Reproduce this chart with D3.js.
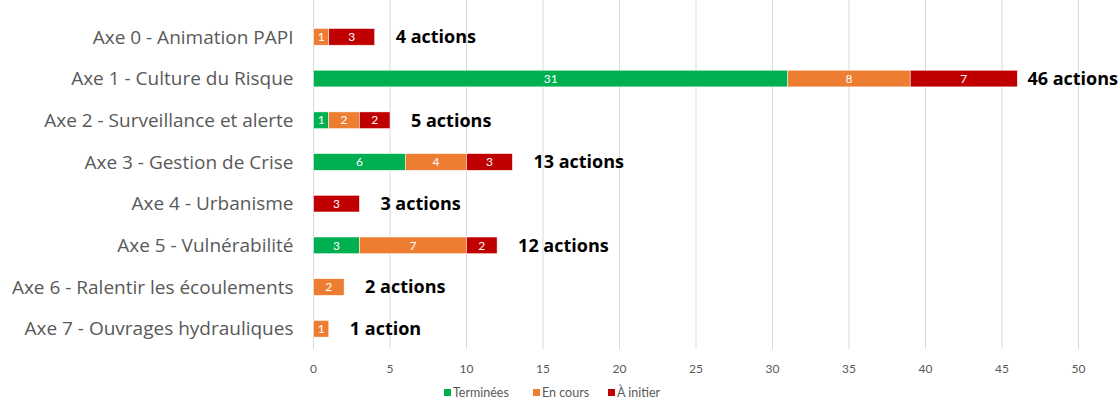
<!DOCTYPE html>
<html>
<head>
<meta charset="utf-8">
<script src="https://cdn.jsdelivr.net/npm/d3@7"></script>
<style>
  body { margin: 0; background: #fff; }
  text { font-family: Lato, "Open Sans", sans-serif; }
</style>
</head>
<body>
<div id="chart"></div>
<script>
var categories = ["Axe 0 - Animation PAPI", "Axe 1 - Culture du Risque", "Axe 2 - Surveillance et alerte",
  "Axe 3 - Gestion de Crise", "Axe 4 - Urbanisme", "Axe 5 - Vulnérabilité",
  "Axe 6 - Ralentir les écoulements", "Axe 7 - Ouvrages hydrauliques"];
var terminees = [0, 31, 1, 6, 0, 3, 0, 0];
var enCours   = [1, 8, 2, 4, 0, 7, 2, 1];
var aInitier  = [3, 7, 2, 3, 3, 2, 0, 0];
var seriesNames = ["Terminées", "En cours", "À initier"];
var colors = ["#00B050", "#ED7D31", "#C00000"];
var xTicks = [0, 5, 10, 15, 20, 25, 30, 35, 40, 45, 50];

var W = 1120, H = 401;
var margin = {top: 16, right: 42, bottom: 52, left: 313.5};

var svg = d3.select("#chart").append("svg")
    .attr("width", W)
    .attr("height", H);
var g = svg.append("g")
    .attr("transform", "translate(" + margin.left + "," + margin.top + ")");

var x = d3.scaleLinear().domain([0, 50]).range([0, 765]);
var y = d3.scaleBand().domain(categories).range([0, 333.6]).paddingInner(0.6).paddingOuter(0.3);

// gridlines
g.selectAll(".grid").data(xTicks).enter().append("line")
  .attr("x1", function(d) { return x(d); })
  .attr("x2", function(d) { return x(d); })
  .attr("y1", -16).attr("y2", 333)
  .attr("stroke", "#d9d9d9").attr("stroke-width", 1);

// tick labels
g.selectAll(".tick").data(xTicks).enter().append("text")
  .attr("x", function(d) { return x(d); })
  .attr("y", 357)
  .attr("text-anchor", "middle")
  .attr("font-size", 12)
  .attr("fill", "#595959")
  .text(function(d) { return d; });

// category labels
g.selectAll(".cat").data(categories).enter().append("text")
  .attr("x", -20)
  .attr("y", function(d) { return y(d) + y.bandwidth() / 2; })
  .attr("dy", "0.35em")
  .attr("text-anchor", "end")
  .style("font-family", "'Open Sans', sans-serif")
  .attr("font-size", 19)
  .attr("fill", "#595959")
  .text(function(d) { return d; });

// stacked data
var rows = categories.map(function(c, i) {
  return {cat: c, "Terminées": terminees[i], "En cours": enCours[i], "À initier": aInitier[i]};
});
var stack = d3.stack().keys(seriesNames)(rows);

var layers = g.selectAll(".layer").data(stack).enter().append("g")
  .attr("fill", function(d, i) { return colors[i]; });

layers.selectAll("rect").data(function(d) { return d; }).enter().append("rect")
  .filter(function(d) { return d[1] > d[0]; })
  .attr("x", function(d) { return x(d[0]); })
  .attr("y", function(d) { return y(d.data.cat); })
  .attr("width", function(d) { return x(d[1]) - x(d[0]); })
  .attr("height", y.bandwidth())
  .attr("stroke", "#fff").attr("stroke-width", 0.5);

layers.selectAll("text").data(function(d) { return d; }).enter().append("text")
  .filter(function(d) { return d[1] > d[0]; })
  .attr("x", function(d) { return (x(d[0]) + x(d[1])) / 2; })
  .attr("y", function(d) { return y(d.data.cat) + y.bandwidth() / 2; })
  .attr("dy", "0.35em")
  .attr("text-anchor", "middle")
  .attr("font-size", 12)
  .attr("fill", "#fff")
  .text(function(d) { return d[1] - d[0]; });

// totals
g.selectAll(".total").data(rows).enter().append("text")
  .attr("y", function(d) { return y(d.cat) + y.bandwidth() / 2; })
  .attr("dy", "0.35em")
  .style("font-family", "'Open Sans', sans-serif")
  .attr("font-size", 18)
  .attr("font-weight", "bold")
  .attr("fill", "#000")
  .text(function(d) {
    var t = d["Terminées"] + d["En cours"] + d["À initier"];
    return t + (t > 1 ? " actions" : " action");
  })
  .attr("x", function(d) {
    var t = d["Terminées"] + d["En cours"] + d["À initier"];
    var w = this.getComputedTextLength();
    return Math.min(x(t) + 21, W - margin.left - w - 2);
  });

// legend
var legend = svg.append("g").attr("transform", "translate(0,397)");
var legX = [444, 533, 608];
seriesNames.forEach(function(s, i) {
  legend.append("rect").attr("x", legX[i]).attr("y", -8).attr("width", 7).attr("height", 7).attr("fill", colors[i]);
  legend.append("text").attr("x", legX[i] + 9).attr("y", 0).attr("font-size", 12.5)
    .attr("fill", "#595959").text(s);
});
</script>
</body>
</html>
